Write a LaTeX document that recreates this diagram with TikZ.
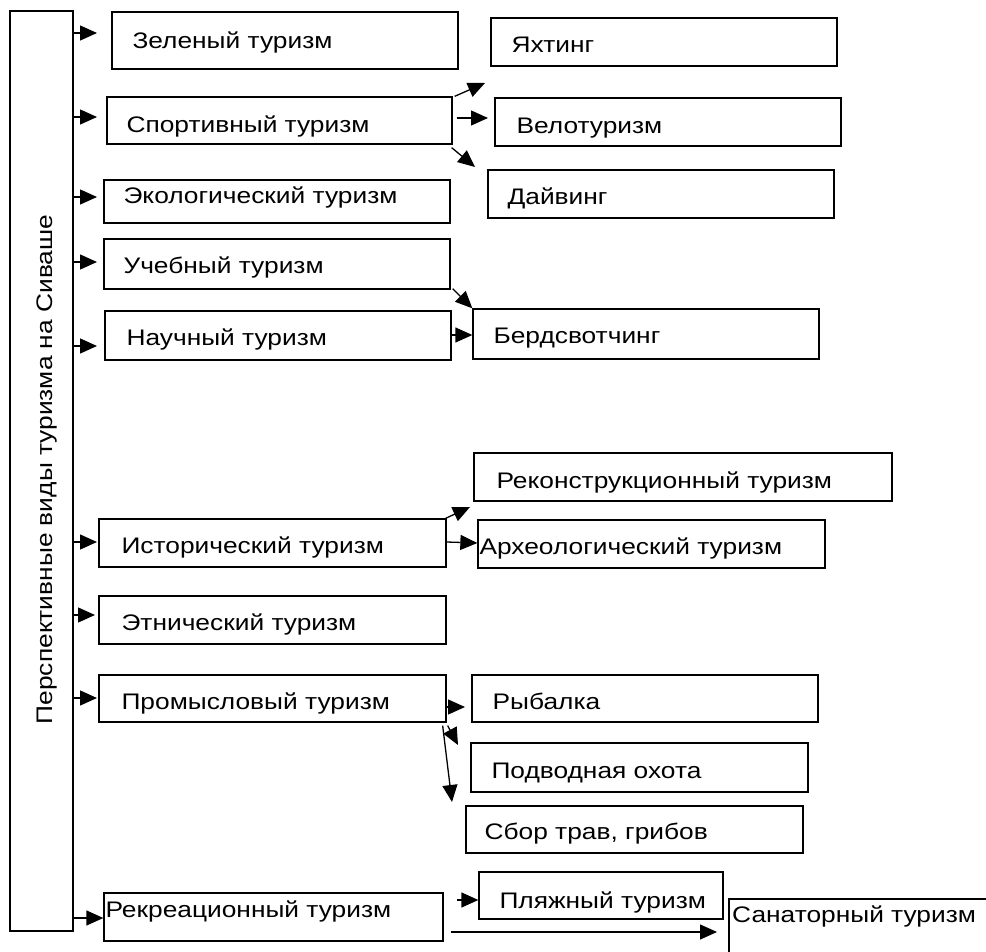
\documentclass[tikz,border=0pt]{standalone}
\usepackage{fontspec}
\usepackage{graphicx}
\setmainfont{Liberation Sans}
\usetikzlibrary{arrows.meta,fit}
\newcommand\sx{1.17}
\tikzset{
  box/.style={draw=black, line width=1.3pt, inner sep=0pt, fill=white},
  lbl/.style={inner sep=0pt, text height=16pt, text depth=0pt, anchor=west,
              font=\fontsize{22.5}{26}\selectfont},
  arr/.style={line width=1.3pt, -{Triangle[length=17pt,width=15pt]}}
}
% name, x1, y1, x2, y2, left pad, text, dy
\newcommand\bx[8]{%
  \node[box, fit={(#2,#3) (#4,#5)}] (#1) {};
  \node[lbl, xshift=#6pt, yshift=-#8pt] (#1t) at (#1.west) {\scalebox{\sx}[1]{#7}};
}
\begin{document}
\begin{tikzpicture}[x=1pt,y=-1pt]
\clip (0,0) rectangle (986,952);
\fill[white] (0,0) rectangle (986,952);
% main box
\node[box, fit={(10,11) (73,931)}] (main) {};
\node[lbl, anchor=center, rotate=90] (maint) at (44.5,469.5)
  {\scalebox{\sx}[1]{Перспективные виды туризма на Сиваше}};
% left column
\bx{zel}{112}{12}{458}{69}{21}{Зеленый туризм}{0}
\bx{spo}{107}{97}{452}{144}{20}{Спортивный туризм}{4.5}
\bx{eko}{104}{180}{450}{223}{20}{Экологический туризм}{-5.5}
\bx{uch}{104}{239}{450}{289}{20}{Учебный туризм}{2}
\bx{nau}{105}{311}{451}{360}{22}{Научный туризм}{1.5}
\bx{ist}{99}{519}{446}{567}{23}{Исторический туризм}{2.5}
\bx{etn}{99}{596}{446}{644}{23}{Этнический туризм}{2}
\bx{pro}{99}{675}{446}{722}{23}{Промысловый туризм}{2.5}
\bx{rec}{104}{893}{443}{941}{2}{Рекреационный туризм}{-8}
% right column
\bx{yah}{491}{18}{837}{66}{21}{Яхтинг}{2.5}
\bx{vel}{495}{98}{841}{146}{22}{Велотуризм}{3.7}
\bx{dai}{488}{170}{834}{218}{20}{Дайвинг}{2.5}
\bx{ber}{473}{309}{819}{359}{21}{Бердсвотчинг}{2}
\bx{rek}{474}{453}{892}{501}{23}{Реконструкционный туризм}{3}
\bx{arx}{478}{520}{825}{568}{2}{Археологический туризм}{2}
\bx{ryb}{472}{675}{818}{722}{21}{Рыбалка}{3}
\bx{pod}{471}{743}{808}{792}{21}{Подводная охота}{2.5}
\bx{sbo}{466}{806}{803}{853}{19}{Сбор трав, грибов}{2}
\bx{pla}{479}{872}{723}{919}{21}{Пляжный туризм}{5}
\node[box, fit={(729,899) (1000,975)}] (san) {};
\node[lbl] (sant) at (732,914) {\scalebox{\sx}[1]{Санаторный туризм}};
% arrows from main box
\draw[arr] (main.east |- 0,33) -- (97,33);
\draw[arr] (main.east |- 0,117) -- (97,117);
\draw[arr] (main.east |- 0,197) -- (97,197);
\draw[arr] (main.east |- 0,262) -- (97,262);
\draw[arr] (main.east |- 0,346) -- (97,346);
\draw[arr] (main.east |- 0,542) -- (97,542);
\draw[arr] (main.east |- 0,615) -- (95,615);
\draw[arr] (main.east |- 0,698) -- (97,698);
\draw[arr] (main.east |- 0,918) -- (rec.west |- 0,918);
% secondary arrows
\draw[arr] (spo.north east) ++(2,0) -- (485,83);
\draw[arr] (spo.east |- 0,118) ++(4,0) -- (488,118);
\draw[arr] (spo.south east) ++(-1,3) -- (475,167);
\draw[arr] (uch.south east) ++(2,-1) -- (ber.north west);
\draw[arr] (nau.east |- 0,335) -- (ber.west |- 0,335);
\draw[arr] (ist.north east) ++(-1,0) -- (470,507);
\draw[arr] (ist.east |- 0,542) -- (arx.west |- 0,543);
\draw[arr] (pro.east |- 0,707) -- (465,707);
\draw[arr] (pro.south east) ++(1,3) -- (458,745);
\draw[arr] (pro.south east) ++(-4,3) -- (452,802);
\draw[arr] (rec.east |- 0,900) ++(13,0) -- (pla.west |- 0,900);
\draw[arr] (rec.east |- 0,932) ++(7,0) -- (717,932);
\end{tikzpicture}
\end{document}
